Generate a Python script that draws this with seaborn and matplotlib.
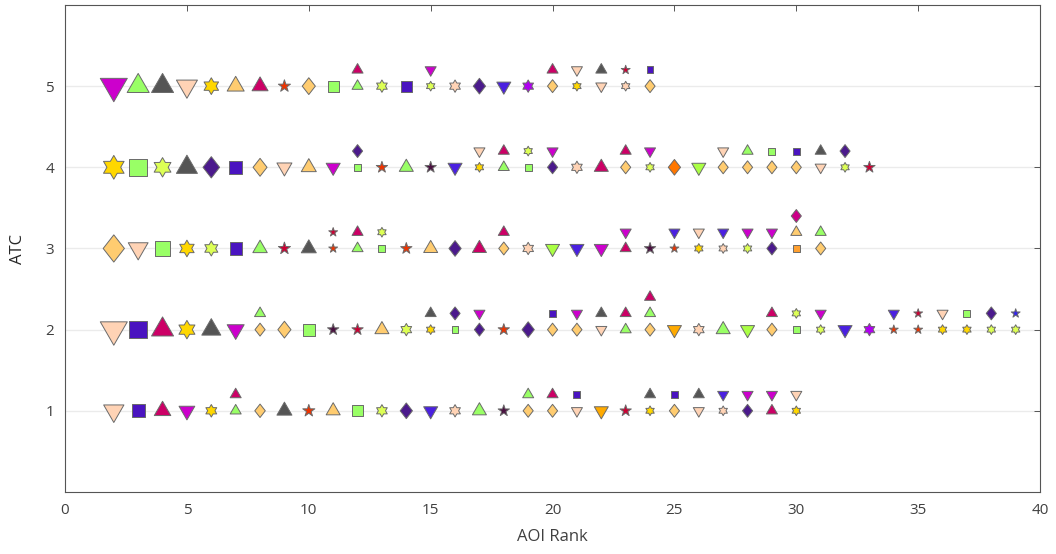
import numpy as np
import pandas as pd
import matplotlib
matplotlib.use("Agg")
import matplotlib.pyplot as plt
from matplotlib.path import Path
import seaborn as sns

# ---- AOI palette (fill colours) ----
COLORS = {
    "magenta": "#CC00CC",
    "lime": "#99FF66",
    "gray": "#555555",
    "peach": "#FFD3B5",
    "gold": "#FFD700",
    "sand": "#FFCC70",
    "crimson": "#CC0066",
    "vermilion": "#EE3300",
    "indigo": "#4B1A8C",
    "royal": "#4A14C0",
    "blue": "#4A20E0",
    "violet": "#B000F0",
    "chartreuse": "#DDFF55",
    "plum": "#4A1040",
    "red": "#CC0033",
    "orange": "#FF7700",
    "amber": "#FFAA00",
    "pink": "#CC0088",
    "azure": "#3322EE",
    "yellowgreen": "#AAFF44",
    "tangerine": "#FFA030",
}

FIRST_RANK = 2

# Each list entry is one AOI rank (starting at FIRST_RANK); the AOIs sharing
# a rank are listed bottom to top as "shape colour".
atc1 = [
    ["v peach"], ["s royal"], ["^ crimson"], ["v magenta"], ["hex gold"],
    ["^ lime", "^ crimson"], ["D sand"], ["^ gray"], ["star vermilion"],
    ["^ sand"], ["s lime"], ["hex chartreuse"], ["D indigo"], ["v blue"],
    ["hex peach"], ["^ lime"], ["star plum"], ["D sand", "^ lime"],
    ["D sand", "^ crimson"], ["v peach", "s royal"], ["v amber"],
    ["star red"], ["hex gold", "^ gray"], ["D sand", "s royal"],
    ["v peach", "^ gray"], ["hex peach", "v blue"], ["D indigo", "v magenta"],
    ["^ crimson", "v magenta"], ["hex gold", "v peach"],
]
atc2 = [
    ["v peach"], ["s royal"], ["^ crimson"], ["hex gold"], ["^ gray"],
    ["v magenta"], ["D sand", "^ lime"], ["D sand"], ["s lime"],
    ["star plum"], ["star red"], ["^ sand"], ["hex chartreuse"],
    ["hex gold", "^ gray"], ["s lime", "D indigo"], ["D indigo", "v magenta"],
    ["star vermilion"], ["D indigo"], ["D sand", "s royal"],
    ["D sand", "v magenta"], ["v peach", "^ gray"], ["^ lime", "^ crimson"],
    ["D sand", "^ lime", "^ crimson"], ["v amber"], ["hex peach"], ["^ lime"],
    ["v yellowgreen"], ["D sand", "^ crimson"], ["s lime", "hex chartreuse"],
    ["hex chartreuse", "v magenta"], ["v blue"], ["hex violet"],
    ["star vermilion", "v blue"], ["star vermilion", "star red"],
    ["hex gold", "v peach"], ["hex gold", "s lime"],
    ["hex chartreuse", "D indigo"], ["hex chartreuse", "star azure"],
]
atc3 = [
    ["D sand"], ["v peach"], ["s lime"], ["hex gold"], ["hex chartreuse"],
    ["s royal"], ["^ lime"], ["star red"], ["^ gray"],
    ["star vermilion", "star red"], ["^ lime", "^ crimson"],
    ["s lime", "hex chartreuse"], ["star vermilion"], ["^ sand"],
    ["D indigo"], ["^ crimson"], ["D sand", "^ crimson"], ["hex peach"],
    ["v yellowgreen"], ["v blue"], ["v magenta"], ["^ crimson", "v magenta"],
    ["star plum"], ["star vermilion", "v blue"], ["hex gold", "v peach"],
    ["hex peach", "v blue"], ["hex chartreuse", "v magenta"],
    ["D indigo", "v magenta"], ["s tangerine", "^ sand", "D pink"],
    ["D sand", "^ lime"],
]
atc4 = [
    ["hex gold"], ["s lime"], ["hex chartreuse"], ["^ gray"], ["D indigo"],
    ["s royal"], ["D sand"], ["v peach"], ["^ sand"], ["v magenta"],
    ["s lime", "D indigo"], ["star vermilion"], ["^ lime"], ["star plum"],
    ["v blue"], ["hex gold", "v peach"], ["^ lime", "^ crimson"],
    ["s lime", "hex chartreuse"], ["D indigo", "v magenta"], ["hex peach"],
    ["^ crimson"], ["D sand", "^ crimson"], ["hex chartreuse", "v magenta"],
    ["D orange"], ["v yellowgreen"], ["D sand", "v peach"],
    ["D sand", "^ lime"], ["D sand", "s lime"], ["D sand", "s royal"],
    ["v peach", "^ gray"], ["hex chartreuse", "D indigo"], ["star red"],
]
atc5 = [
    ["v magenta"], ["^ lime"], ["^ gray"], ["v peach"], ["hex gold"],
    ["^ sand"], ["^ crimson"], ["star vermilion"], ["D sand"], ["s lime"],
    ["^ lime", "^ crimson"], ["hex chartreuse"], ["s royal"],
    ["hex chartreuse", "v magenta"], ["hex peach"], ["D indigo"], ["v blue"],
    ["hex violet"], ["D sand", "^ crimson"], ["hex gold", "v peach"],
    ["v peach", "^ gray"], ["hex peach", "star red"], ["D sand", "s royal"],
]
ATC_ROWS = {1: atc1, 2: atc2, 3: atc3, 4: atc4, 5: atc5}

x_ticks = [0, 5, 10, 15, 20, 25, 30, 35, 40]
y_ticks = [1, 2, 3, 4, 5]

# ---- marker shapes ----
h = np.sqrt(3.0)
tri_up = Path([[-1, -h / 3], [1, -h / 3], [0, 2 * h / 3], [-1, -h / 3]], closed=True)
tri_dn = Path([[-1, h / 3], [1, h / 3], [0, -2 * h / 3], [-1, h / 3]], closed=True)
diamond = Path([[0, 1], [0.78, 0], [0, -1], [-0.78, 0], [0, 1]], closed=True)
hexagram = Path.unit_regular_star(6, 0.58)
MARKERS = {"^": tri_up, "v": tri_dn, "s": "s", "D": diamond,
           "hex": hexagram, "star": "*"}
# marker size relative to the nominal glyph width
SHAPE_SCALE = {"^": 1.155, "v": 1.155, "s": 0.8, "D": 1.12,
               "hex": 0.88, "star": 0.85}
STACKED_SCALE = {"^": 1.0, "v": 1.0, "s": 0.78, "D": 1.05,
                 "hex": 1.0, "star": 1.0}

# nominal glyph width (px) of the leading, unstacked ranks
HEAD_PX = {2: 27, 3: 22, 4: 22, 5: 21, 6: 19, 7: 17, 8: 16, 9: 15, 10: 15}
ROW_HEAD_SCALE = {1: 0.75, 2: 1.0, 3: 0.9, 4: 1.0, 5: 1.0}
STACK_STEP = 0.2
DPI = 100

rows = []
for atc, ranks in ATC_ROWS.items():
    for i, column in enumerate(ranks):
        rank = FIRST_RANK + i
        for level, code in enumerate(column):
            shape, cname = code.split()
            if len(column) > 1:
                px = 11.0 * STACKED_SCALE[shape]
            else:
                px = HEAD_PX.get(rank, 14.0)
                if rank <= 8:
                    px *= ROW_HEAD_SCALE[atc]
            ms = px * 72.0 / DPI * SHAPE_SCALE[shape]
            rows.append({"rank": rank, "y": atc + STACK_STEP * level,
                         "shape": shape, "color": cname, "area": ms ** 2})
df = pd.DataFrame(rows)

sns.set_theme(style="white")
plt.rcParams["font.family"] = ["Open Sans", "DejaVu Sans"]

fig = plt.figure(figsize=(10.56, 5.54), dpi=DPI)
ax = fig.add_axes([0.0616, 0.112, 0.9233, 0.879])

for yv in y_ticks:
    ax.axhline(yv, color="#EBEBEB", lw=1.0, zorder=0)

for shape, sub in df.groupby("shape"):
    sns.scatterplot(data=sub, x="rank", y="y", hue="color", palette=COLORS,
                    marker=MARKERS[shape], s=sub["area"].to_numpy(),
                    edgecolor="#6A6A6A", linewidth=0.7, legend=False,
                    ax=ax, zorder=3)

ax.set_xlim(0, 40)
ax.set_ylim(0, 6)
ax.set_xticks(x_ticks)
ax.set_yticks(y_ticks)
ax.tick_params(direction="in", top=True, right=True, length=4, width=0.7,
               color="#555555", labelcolor="#404040", labelsize=11, pad=8)
for sp in ax.spines.values():
    sp.set_color("#555555")
    sp.set_linewidth(0.8)
ax.set_xlabel("AOI Rank", fontsize=12, color="#404040", labelpad=8)
ax.set_ylabel("ATC", fontsize=12, color="#262626", labelpad=14)

fig.savefig("out.png", dpi=DPI)
